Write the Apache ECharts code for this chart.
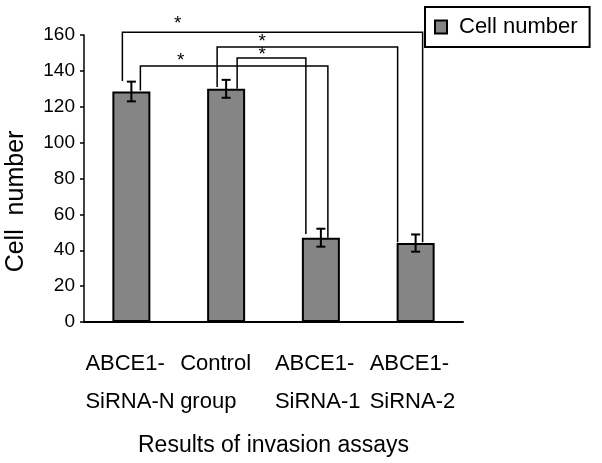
<!DOCTYPE html>
<html>
<head>
<meta charset="utf-8">
<script src="https://cdn.jsdelivr.net/npm/echarts@6/dist/echarts.min.js"></script>
<style>html,body{margin:0;padding:0;background:#fff;}#c{width:602px;height:463px;}</style>
</head>
<body>
<div id="c"></div>
<script>
// ---- data ----
const categories = ['ABCE1-\nSiRNA-N', 'Control\ngroup', 'ABCE1-\nSiRNA-1', 'ABCE1-\nSiRNA-2'];
const cellNumber = [128.5, 130, 47, 44];
const errorSize = [5.5, 5, 5, 4.8];
const yTicks = [0, 20, 40, 60, 80, 100, 120, 140, 160];
// significance brackets: [fromCategory, toCategory, bracketTop, leftLegEnd, rightLegEnd]
const bracketFrom = [0, 1, 1, 0];
const bracketTo = [3, 3, 2, 2];
const bracketTop = [161.6, 153.3, 147.2, 142.7];
const bracketLeftEnd = [134.3, 131, 130, 129];
const bracketRightEnd = [44.5, 44.5, 49, 47];
const bracketLabel = ['*', '*', '*', '*'];

// ---- layout (pixel offsets, not data) ----
const legOffsets = [[-9, 7], [-9, -18], [11, -15], [9, 7]];
const starCatPos = [0.49, 1.38, 1.38, 0.52];
const starLift = [8, 5, 3, 5];

const FONT = 'Liberation Sans, Arial, sans-serif';
const chart = echarts.init(document.getElementById('c'), null, {renderer: 'canvas'});

const errData = cellNumber.map((v, i) => [i, v - errorSize[i], v + errorSize[i]]);
const bracketData = bracketFrom.map((f, i) => [f, bracketTo[i], bracketTop[i], bracketLeftEnd[i], bracketRightEnd[i], i]);

chart.setOption({
  animation: false,
  backgroundColor: '#fff',
  textStyle: {fontFamily: FONT, color: '#000'},
  grid: {left: 84, top: 35, right: 139, bottom: 141, containLabel: false, outerBoundsMode: 'none'},
  legend: {
    data: ['Cell number'],
    left: 425, top: 7,
    icon: 'rect',
    itemWidth: 12, itemHeight: 13,
    padding: [9, 12, 9, 9],
    borderColor: '#000', borderWidth: 2,
    textStyle: {fontSize: 22, color: '#000', fontFamily: FONT, padding: [0, 0, 0, 7]}
  },
  xAxis: {
    type: 'category',
    data: categories,
    axisLine: {lineStyle: {color: '#000', width: 2}},
    axisTick: {inside: true, length: 8, lineStyle: {color: '#000', width: 1.5}},
    axisLabel: {
      margin: 23,
      formatter: function (v) {
        return v.split('\n').map(s => '{a|' + s + '}').join('\n');
      },
      rich: {a: {fontSize: 22, lineHeight: 38, width: 92, align: 'left', color: '#000', fontFamily: FONT}}
    },
    name: 'Results of invasion assays',
    nameLocation: 'middle',
    nameGap: 112,
    nameTextStyle: {fontSize: 23, color: '#000', fontFamily: FONT}
  },
  yAxis: {
    type: 'value',
    min: 0, max: 160, interval: 20,
    splitLine: {show: false},
    axisLine: {show: true, lineStyle: {color: '#000', width: 1.5}},
    axisTick: {show: true, length: 4, lineStyle: {color: '#000', width: 1.5}},
    axisLabel: {
      margin: 9, fontSize: 19, color: '#000', fontFamily: FONT,
      formatter: v => (yTicks.indexOf(v) >= 0 ? String(v) : '')
    },
    name: 'Cell  number',
    nameLocation: 'middle',
    nameGap: 55,
    nameTextStyle: {fontSize: 25, color: '#000', fontFamily: FONT, padding: [0, 46, 0, 0]}
  },
  series: [
    {
      name: 'Cell number',
      type: 'bar',
      data: cellNumber,
      barWidth: 38,
      itemStyle: {color: '#858585', borderColor: '#000', borderWidth: 2}
    },
    {
      name: 'error',
      type: 'custom',
      data: errData,
      z: 5,
      renderItem: function (params, api) {
        const i = api.value(0);
        const lo = api.coord([i, api.value(1)]);
        const hi = api.coord([i, api.value(2)]);
        const cap = 4.5;
        return {
          type: 'group',
          children: [
            {type: 'line', shape: {x1: lo[0], y1: lo[1], x2: hi[0], y2: hi[1]}, style: {stroke: '#000', lineWidth: 2}},
            {type: 'line', shape: {x1: lo[0] - cap, y1: lo[1], x2: lo[0] + cap, y2: lo[1]}, style: {stroke: '#000', lineWidth: 2}},
            {type: 'line', shape: {x1: hi[0] - cap, y1: hi[1], x2: hi[0] + cap, y2: hi[1]}, style: {stroke: '#000', lineWidth: 2}}
          ]
        };
      }
    },
    {
      name: 'brackets',
      type: 'custom',
      data: bracketData,
      clip: false,
      z: 6,
      renderItem: function (params, api) {
        const f = api.value(0), t = api.value(1), k = api.value(5);
        const off = legOffsets[k];
        const topL = api.coord([f, api.value(2)]);
        const topR = api.coord([t, api.value(2)]);
        const endL = api.coord([f, api.value(3)]);
        const endR = api.coord([t, api.value(4)]);
        const c0 = api.coord([0, 0])[0], c1 = api.coord([1, 0])[0];
        const sx = c0 + starCatPos[k] * (c1 - c0);
        return {
          type: 'group',
          children: [
            {type: 'polyline', shape: {points: [[endL[0] + off[0], endL[1]], [topL[0] + off[0], topL[1]], [topR[0] + off[1], topR[1]], [endR[0] + off[1], endR[1]]]},
             style: {stroke: '#000', lineWidth: 1.5, fill: null}},
            {type: 'text', x: sx, y: topL[1] - starLift[k], style: {text: bracketLabel[k], fontSize: 19, fontFamily: FONT, fill: '#000', align: 'center', verticalAlign: 'middle'}}
          ]
        };
      }
    }
  ]
});
</script>
</body>
</html>
